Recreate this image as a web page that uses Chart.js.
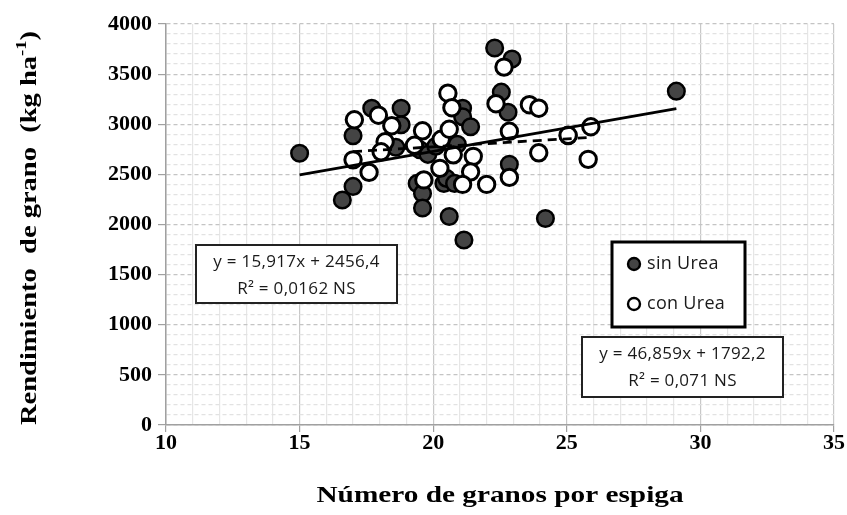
<!DOCTYPE html>
<html>
<head>
<meta charset="utf-8">
<script src="https://cdn.jsdelivr.net/npm/chart.js@4.4.1/dist/chart.umd.min.js"></script>
<style>
  body { margin: 0; background: #fff; }
  canvas { display: block; }
</style>
</head>
<body>
<canvas id="chart" width="847" height="515"></canvas>
<script>
// sin Urea (filled markers)
const sinX = [15.0, 16.6, 17.0, 17.0, 17.7, 18.8, 18.8, 18.6, 19.4, 19.6, 19.6, 19.5, 19.8, 20.4, 20.5, 20.8,
              20.6, 21.1, 21.1, 21.4, 21.15, 22.3, 22.95, 22.55, 22.8, 22.85, 24.2, 25.05, 29.1, 20.9, 20.1];
const sinY = [2710, 2245, 2380, 2885, 3160, 3160, 2995, 2770, 2410, 2310, 2165, 2745, 2700, 2410, 2460, 2410,
              2080, 3160, 3075, 2975, 1845, 3760, 3650, 3320, 3120, 2600, 2060, 2885, 3330, 2800, 2780];

// con Urea (open markers)
const conX = [17.05, 17.95, 18.45, 18.2, 18.05, 17.0, 17.6, 19.6, 19.3, 20.3, 20.25, 19.65, 20.55, 20.7, 20.6,
              20.75, 21.5, 21.4, 21.1, 22.0, 22.35, 22.65, 23.6, 23.95, 22.85, 22.85, 23.95, 25.05, 25.9, 25.8];
const conY = [3045, 3090, 2985, 2825, 2725, 2645, 2520, 2935, 2790, 2850, 2560, 2445, 3310, 3165, 2950,
              2695, 2680, 2525, 2400, 2400, 3205, 3570, 3195, 3160, 2930, 2470, 2715, 2890, 2975, 2650];

// trend line end points
const sinTrendX = [15.0, 29.1];
const sinTrendY = [2495, 3156];
const conTrendX = [17.0, 25.9];
const conTrendY = [2727, 2869];

const xTicksMajor = [10, 15, 20, 25, 30, 35];
const yTicksMajor = [0, 500, 1000, 1500, 2000, 2500, 3000, 3500, 4000];

const eqSin = ["y = 46,859x + 1792,2", "R² = 0,071 NS"];
const eqCon = ["y = 15,917x + 2456,4", "R² = 0,0162 NS"];
const legendLabels = ["sin Urea", "con Urea"];
const xTitle = "Número de granos por espiga";
const yTitle = ["Rendimiento  de grano  (kg ha", "-1", ")"];

const toPoints = (xs, ys) => xs.map((x, i) => ({ x: x, y: ys[i] }));

const serif = "'Liberation Serif', 'Times New Roman', serif";
const sans = "'Open Sans', 'Noto Sans', sans-serif";

const overlay = {
  id: "overlay",
  afterDraw(chart) {
    const ctx = chart.ctx;
    const area = chart.chartArea;

    // x axis title, a little stretched like the original
    ctx.save();
    ctx.translate((area.left + area.right) / 2, 496);
    ctx.scale(1.22, 1);
    ctx.fillStyle = "#000";
    ctx.font = "bold 24px " + serif;
    ctx.textAlign = "center";
    ctx.textBaseline = "middle";
    ctx.fillText(xTitle, 0, 0);
    ctx.restore();

    // y axis title with superscript
    ctx.save();
    ctx.translate(30, 228);
    ctx.rotate(-Math.PI / 2);
    ctx.scale(1.24, 1);
    ctx.fillStyle = "#000";
    ctx.textBaseline = "middle";
    ctx.textAlign = "left";
    ctx.font = "bold 23px " + serif;
    const w1 = ctx.measureText(yTitle[0]).width;
    const w3 = ctx.measureText(yTitle[2]).width;
    ctx.font = "bold 15px " + serif;
    const w2 = ctx.measureText(yTitle[1]).width;
    const x0 = -(w1 + w2 + w3) / 2;
    ctx.font = "bold 23px " + serif;
    ctx.fillText(yTitle[0], x0, 0);
    ctx.font = "bold 15px " + serif;
    ctx.fillText(yTitle[1], x0 + w1, -8);
    ctx.font = "bold 23px " + serif;
    ctx.fillText(yTitle[2], x0 + w1 + w2, 0);
    ctx.restore();

    // equation boxes
    const box = (x, y, w, h, lines) => {
      ctx.save();
      ctx.fillStyle = "#fff";
      ctx.fillRect(x, y, w, h);
      ctx.lineWidth = 2;
      ctx.strokeStyle = "#222";
      ctx.strokeRect(x, y, w, h);
      ctx.fillStyle = "#1a1a1a";
      ctx.font = "17px " + sans;
      ctx.letterSpacing = "0.3px";
      ctx.textAlign = "center";
      ctx.textBaseline = "middle";
      ctx.fillText(lines[0], x + w / 2, y + 17);
      ctx.fillText(lines[1], x + w / 2, y + 44);
      ctx.restore();
    };
    box(196, 245, 201, 58, eqCon);
    box(582, 337, 201, 60, eqSin);

    // legend
    ctx.save();
    ctx.fillStyle = "#fff";
    ctx.fillRect(612, 242, 133, 85);
    ctx.lineWidth = 3;
    ctx.strokeStyle = "#000";
    ctx.strokeRect(612, 242, 133, 85);
    const items = [[chart.data.datasets[0], 264], [chart.data.datasets[1], 304]];
    items.forEach(([ds, y], i) => {
      ctx.beginPath();
      ctx.arc(634, y, 6, 0, Math.PI * 2);
      ctx.fillStyle = ds.backgroundColor;
      ctx.fill();
      ctx.lineWidth = 2.4;
      ctx.strokeStyle = "#000";
      ctx.stroke();
      ctx.fillStyle = "#1a1a1a";
      ctx.font = "18px " + sans;
      ctx.letterSpacing = "0.3px";
      ctx.textAlign = "left";
      ctx.textBaseline = "middle";
      ctx.fillText(legendLabels[i], 647, y);
    });
    ctx.restore();
  }
};

new Chart(document.getElementById("chart"), {
  type: "scatter",
  data: {
    datasets: [
      {
        label: "sin Urea",
        data: toPoints(sinX, sinY),
        backgroundColor: "#444444",
        borderColor: "#000",
        borderWidth: 2.5,
        pointRadius: 8.3,
        order: 3,
      },
      {
        label: "con Urea",
        data: toPoints(conX, conY),
        backgroundColor: "#ffffff",
        borderColor: "#000",
        borderWidth: 3,
        pointRadius: 8.2,
        order: 2,
      },
      {
        type: "line",
        label: "tendencia sin Urea",
        data: toPoints(sinTrendX, sinTrendY),
        borderColor: "#000",
        borderWidth: 2.8,
        pointRadius: 0,
        showLine: true,
        order: 1,
      },
      {
        type: "line",
        label: "tendencia con Urea",
        data: toPoints(conTrendX, conTrendY),
        borderColor: "#000",
        borderWidth: 2.8,
        borderDash: [9, 6],
        pointRadius: 0,
        showLine: true,
        order: 0,
      },
    ],
  },
  options: {
    responsive: false,
    animation: false,
    devicePixelRatio: 1,
    layout: { padding: { left: 0, right: 13, top: 24, bottom: 0 } },
    plugins: {
      legend: { display: false },
      tooltip: { enabled: false },
    },
    scales: {
      x: {
        type: "linear",
        min: 10,
        max: 35,
        afterFit: (scale) => { scale.height = 90; },
        ticks: {
          stepSize: 1,
          autoSkip: false,
          maxRotation: 0,
          minRotation: 0,
          padding: -2,
          color: "#000",
          font: { family: serif, size: 22, weight: "bold" },
          callback: (v) => (xTicksMajor.includes(v) ? v : ""),
        },
        grid: {
          color: (c) => (xTicksMajor.includes(c.tick.value) ? "#c8c8c8" : "#e6e6e6"),
          tickColor: (c) => (xTicksMajor.includes(c.tick.value) ? "#a0a0a0" : "rgba(0,0,0,0)"),
          tickLength: 7,
          lineWidth: 1.2,
        },
        border: { color: "#a0a0a0", width: 1.5 },
      },
      y: {
        type: "linear",
        min: 0,
        max: 4000,
        afterFit: (scale) => { scale.width = 166; },
        ticks: {
          stepSize: 100,
          autoSkip: false,
          padding: 6,
          color: "#000",
          font: { family: serif, size: 22, weight: "bold" },
          callback: (v) => (yTicksMajor.includes(v) ? v : ""),
        },
        grid: {
          color: (c) => (yTicksMajor.includes(c.tick.value) ? "#c4c4c4" : "#e2e2e2"),
          tickColor: (c) => (yTicksMajor.includes(c.tick.value) ? "#a0a0a0" : "rgba(0,0,0,0)"),
          tickLength: 8,
          lineWidth: 1.2,
        },
        border: { color: "#a0a0a0", width: 1.5, dash: [4, 3] },
      },
    },
  },
  plugins: [overlay],
});
</script>
</body>
</html>
